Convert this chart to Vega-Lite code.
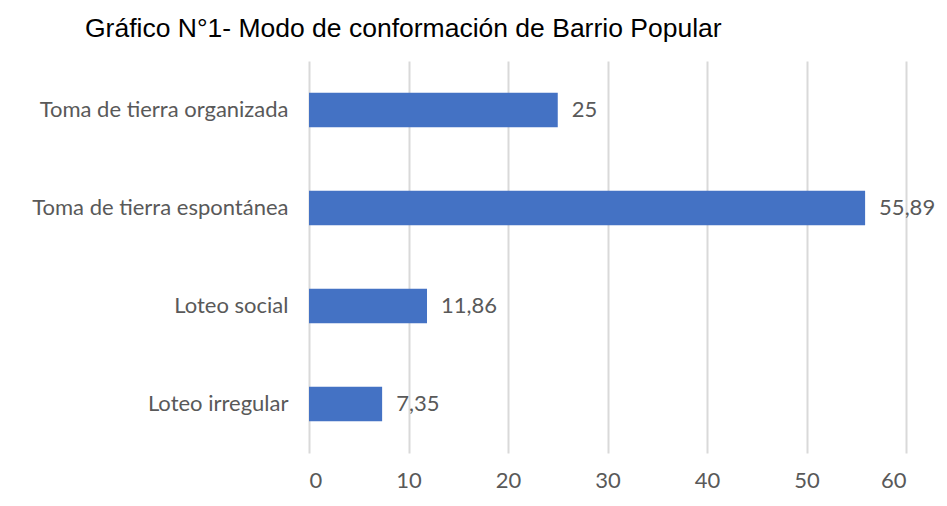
{
  "$schema": "https://vega.github.io/schema/vega-lite/v6.json",
  "width": 597,
  "height": 392,
  "autosize": {"type": "none"},
  "padding": {"left": 309, "top": 61, "right": 41, "bottom": 53},
  "background": "white",
  "title": {
    "text": "Gráfico N°1- Modo de conformación de Barrio Popular",
    "anchor": "start",
    "frame": "group",
    "dx": -224,
    "offset": 19,
    "font": "Liberation Sans",
    "fontSize": 26.5,
    "fontWeight": "normal",
    "color": "#000000"
  },
  "data": {
    "values": [
      {"categoria": "Toma de tierra organizada", "valor": 25, "etiqueta": "25"},
      {"categoria": "Toma de tierra espontánea", "valor": 55.89, "etiqueta": "55,89"},
      {"categoria": "Loteo social", "valor": 11.86, "etiqueta": "11,86"},
      {"categoria": "Loteo irregular", "valor": 7.35, "etiqueta": "7,35"}
    ]
  },
  "encoding": {
    "y": {
      "field": "categoria",
      "type": "nominal",
      "sort": null,
      "scale": {"paddingInner": 0.647, "paddingOuter": 0.3235},
      "axis": {
        "title": null,
        "domain": false,
        "ticks": false,
        "labelPadding": 21,
        "labelLimit": 0,
        "labelFont": "Lato",
        "labelFontSize": 22,
        "labelColor": "#595959"
      }
    },
    "x": {
      "field": "valor",
      "type": "quantitative",
      "scale": {"domain": [0, 60], "nice": false},
      "axis": {
        "title": null,
        "values": [0, 10, 20, 30, 40, 50, 60],
        "domain": false,
        "ticks": false,
        "labelPadding": 17,
        "labelFont": "Lato",
        "labelFontSize": 22,
        "labelColor": "#595959",
        "gridColor": "#d9d9d9",
        "gridWidth": 2
      }
    }
  },
  "layer": [
    {"mark": {"type": "bar", "color": "#4472C4"}},
    {
      "mark": {"type": "text", "align": "left", "dx": 14, "font": "Lato", "fontSize": 22, "color": "#595959"},
      "encoding": {"text": {"field": "etiqueta"}}
    }
  ],
  "config": {"view": {"stroke": null}}
}
